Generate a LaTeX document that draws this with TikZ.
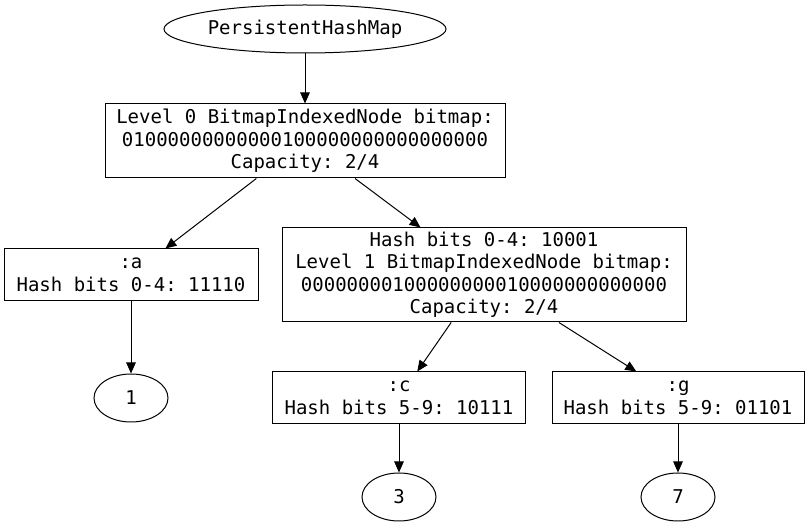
\documentclass[tikz,border=0pt]{standalone}
\usepackage{fontspec}
\setmonofont{DejaVu Sans Mono}
\usetikzlibrary{shapes.geometric,arrows.meta}
\tikzset{
  box/.style={draw, line width=1pt, rectangle, inner sep=0pt, align=center,
    font=\ttfamily\fontsize{19}{22.5}\selectfont},
  oval/.style={draw, line width=1pt, ellipse, inner sep=0pt, align=center,
    font=\ttfamily\fontsize{19}{22.5}\selectfont},
  edge/.style={line width=1pt, -{Triangle[length=11pt,width=9.5pt]}}
}
\begin{document}
\begin{tikzpicture}[x=1pt,y=-1pt]
\useasboundingbox (0,0) rectangle (807,529);
\node[oval, minimum width=282pt, minimum height=48pt] (phm) at (305,29) {PersistentHashMap};
\node[box, minimum width=400pt, minimum height=74pt] (l0) at (305,141)
  {Level 0 BitmapIndexedNode bitmap:\\01000000000000100000000000000000\\Capacity: 2/4};
\node[box, minimum width=254pt, minimum height=52pt] (a) at (131,275)
  {:a\\Hash bits 0-4: 11110};
\node[box, minimum width=404pt, minimum height=94pt] (l1) at (484,275)
  {Hash bits 0-4: 10001\\Level 1 BitmapIndexedNode bitmap:\\00000000100000000010000000000000\\Capacity: 2/4};
\node[oval, minimum width=74pt, minimum height=48pt] (v1) at (131,398) {1};
\node[box, minimum width=253pt, minimum height=52pt] (c) at (399,398)
  {:c\\Hash bits 5-9: 10111};
\node[box, minimum width=252pt, minimum height=52pt] (g) at (678,398)
  {:g\\Hash bits 5-9: 01101};
\node[oval, minimum width=74pt, minimum height=48pt] (v3) at (399,497) {3};
\node[oval, minimum width=74pt, minimum height=48pt] (v7) at (678,497) {7};
\draw[edge] (phm) -- (l0);
\draw[edge] (l0) -- (a);
\draw[edge] (l0) -- (l1);
\draw[edge] (a) -- (v1);
\draw[edge] (l1) -- (c);
\draw[edge] (l1) -- (g);
\draw[edge] (c) -- (v3);
\draw[edge] (g) -- (v7);
\end{tikzpicture}
\end{document}
